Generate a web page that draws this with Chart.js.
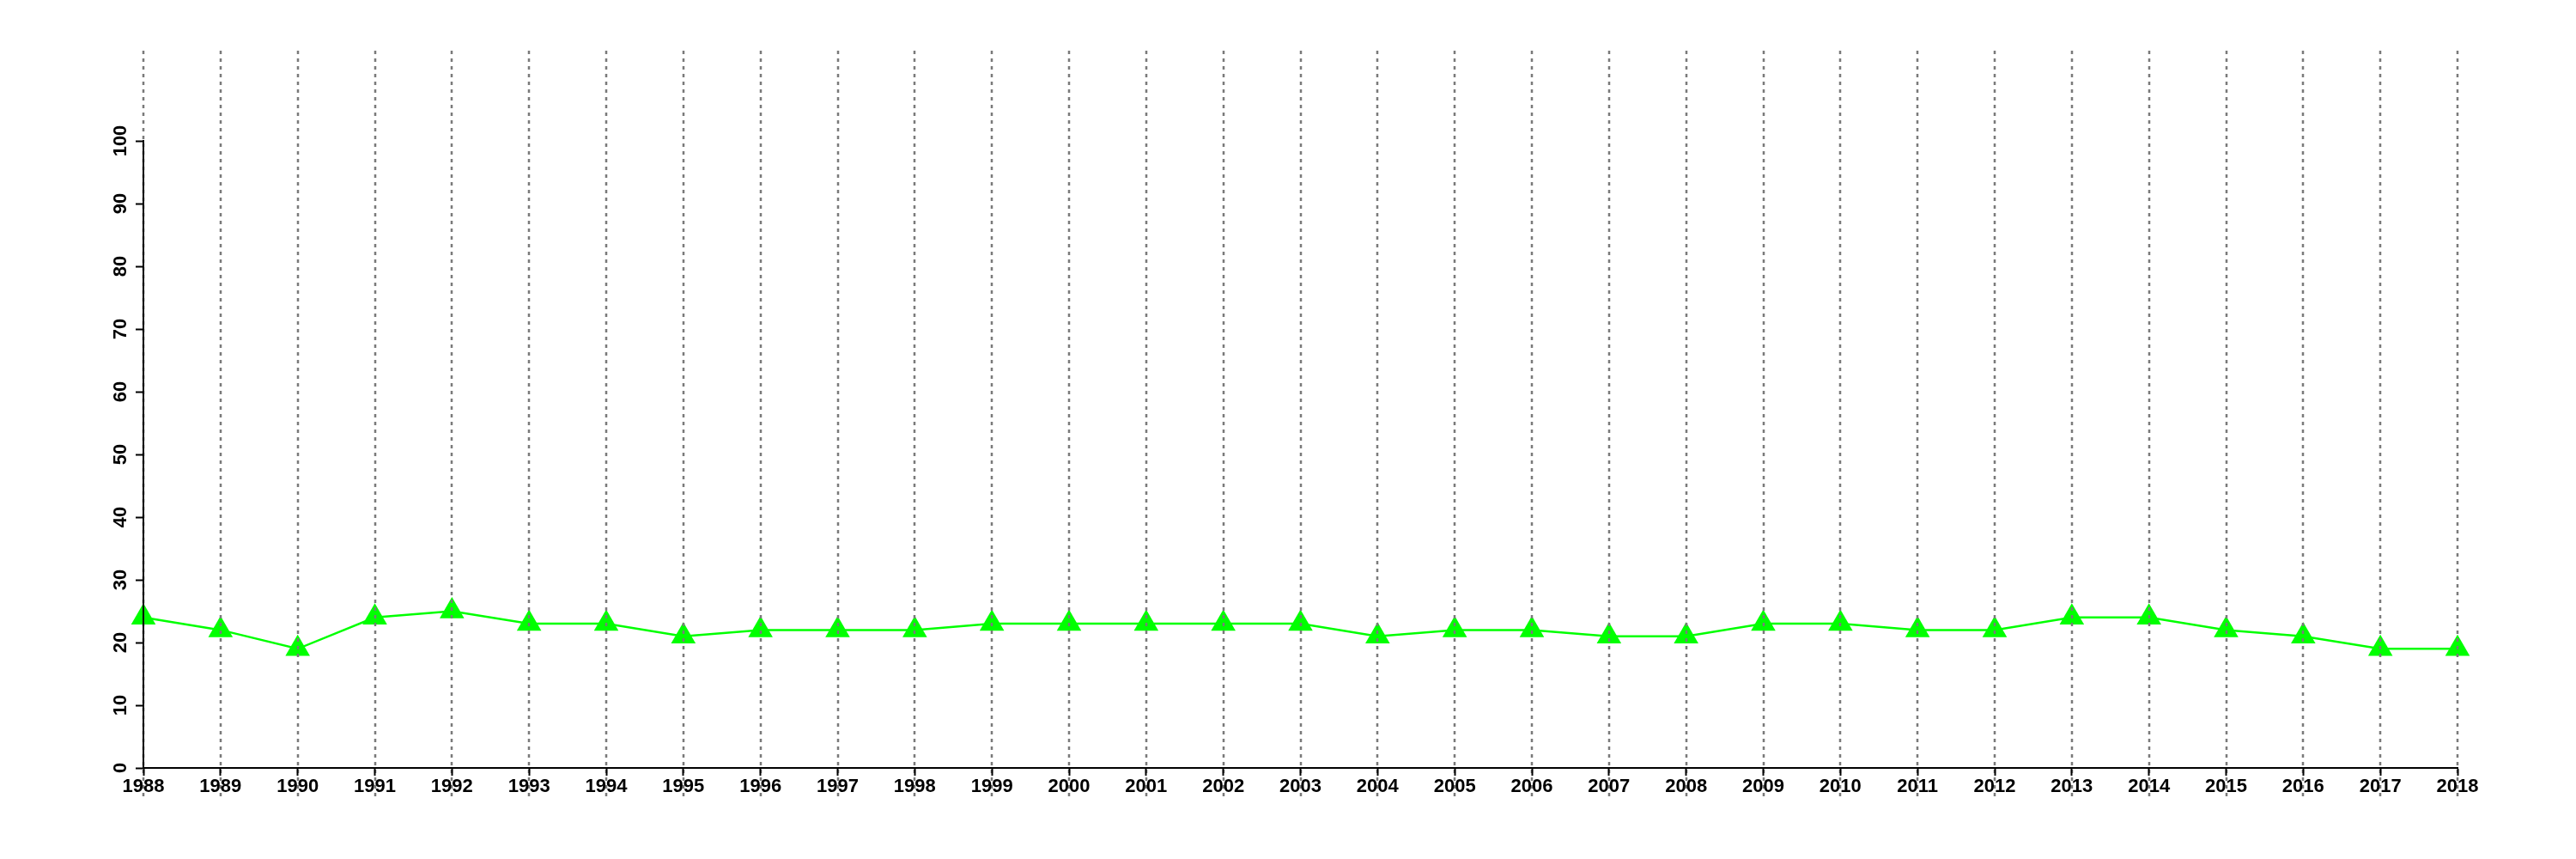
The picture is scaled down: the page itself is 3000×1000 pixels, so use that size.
<!DOCTYPE html>
<html>
<head>
<meta charset="utf-8">
<script src="https://cdn.jsdelivr.net/npm/chart.js"></script>
<style>
body { margin: 0; background: #fff; }
#wrap { width: 3000px; height: 1000px; }
</style>
</head>
<body>
<div id="wrap"><canvas id="myChart" width="3000" height="1000"></canvas></div>
<script>
// years on the x axis
var years = ['1988','1989','1990','1991','1992','1993','1994','1995','1996','1997','1998',
  '1999','2000','2001','2002','2003','2004','2005','2006','2007','2008','2009','2010',
  '2011','2012','2013','2014','2015','2016','2017','2018'];
// values
var values = [24,22,19,24,25,23,23,21,22,22,22,23,23,23,23,23,21,22,22,21,21,23,23,22,22,24,24,22,21,19,19];
var yMin = 0, yMax = 100, yStep = 10;

// dotted vertical lines at every year: over the points, under the axes
var yearLines = {
  id: 'yearLines',
  afterDatasetsDraw: function(chart) {
    var ctx = chart.ctx;
    var xs = chart.scales.x;
    ctx.save();
    ctx.strokeStyle = '#7a7a7a';
    ctx.lineWidth = 2.5;
    ctx.setLineDash([4, 5]);
    for (var i = 0; i < years.length; i++) {
      var px = Math.round(xs.getPixelForValue(i));
      ctx.beginPath();
      ctx.moveTo(px, 59);
      ctx.lineTo(px, 928);
      ctx.stroke();
    }
    ctx.restore();
  }
};

var font = { family: '"Liberation Sans", Arial, sans-serif', size: 22, weight: 'bold' };

var ctx = document.getElementById('myChart').getContext('2d');
new Chart(ctx, {
  type: 'line',
  data: {
    labels: years,
    datasets: [{
      data: values,
      borderColor: '#00ff00',
      borderWidth: 2.5,
      backgroundColor: '#00ff00',
      pointStyle: 'triangle',
      pointRadius: 16.5,
      pointBackgroundColor: '#00ff00',
      pointBorderWidth: 0,
      tension: 0,
      fill: false
    }]
  },
  options: {
    responsive: false,
    animation: false,
    layout: { padding: { top: 164, right: 138, left: 0, bottom: 0 } },
    plugins: { legend: { display: false }, tooltip: { enabled: false } },
    scales: {
      x: {
        offset: false,
        afterFit: function(scale) { scale.height = 106; },
        grid: { z: 1, display: true, drawOnChartArea: false, drawTicks: true, tickLength: 9, tickWidth: 2, tickColor: '#000' },
        border: { z: 1, display: true, color: '#000', width: 2 },
        ticks: { z: 1, color: '#000', font: font, padding: 0, maxRotation: 0, autoSkip: false }
      },
      y: {
        min: yMin,
        max: yMax,
        afterFit: function(scale) { scale.width = 167; },
        grid: { z: 1, display: true, drawOnChartArea: false, drawTicks: true, tickLength: 9, tickWidth: 2, tickColor: '#000' },
        border: { z: 1, display: true, color: '#000', width: 2 },
        ticks: { z: 1, stepSize: yStep, color: '#000', font: font, padding: -1, minRotation: 90, maxRotation: 90, crossAlign: 'center' }
      }
    }
  },
  plugins: [yearLines]
});
</script>
</body>
</html>
